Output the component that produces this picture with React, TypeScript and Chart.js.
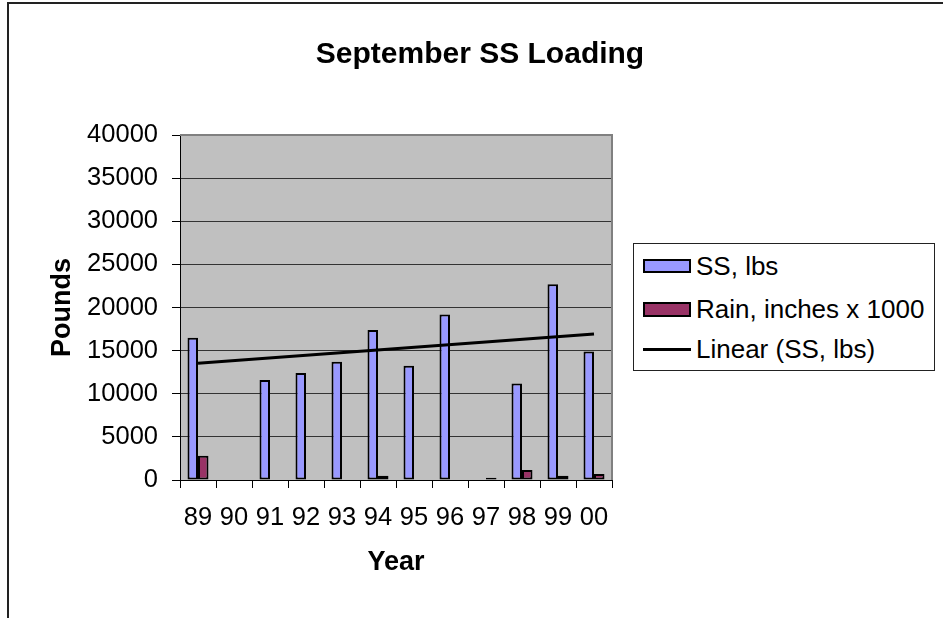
import React, { useEffect, useRef } from "react";
import { Chart, registerables } from "chart.js";

Chart.register(...registerables);

// ---- data ----
const years = ["89", "90", "91", "92", "93", "94", "95", "96", "97", "98", "99", "00"];
const ssLbs = [16500, null, 11600, 12400, 13700, 17400, 13250, 19200, null, 11200, 22700, 14900];
const rainX1000 = [2800, null, null, null, null, 500, null, null, 250, 1150, 500, 700];
const trendSS = [13530, null, null, null, null, null, null, null, null, null, null, 16930];
const yMin = 0;
const yMax = 40000;
const yStep = 5000;

const chartTitle = "September SS Loading";
const seriesNames = ["SS, lbs", "Rain, inches x 1000", "Linear (SS, lbs)"];

const FONT = "'Liberation Sans', Arial, Helvetica, sans-serif";

const plotBg = {
  id: "plotBg",
  beforeDraw(chart: any) {
    const { ctx, chartArea } = chart;
    if (!chartArea) return;
    ctx.save();
    ctx.fillStyle = "#C0C0C0";
    ctx.fillRect(chartArea.left, chartArea.top, chartArea.right - chartArea.left, chartArea.bottom - chartArea.top);
    ctx.restore();
  },
  beforeDatasetsDraw(chart: any) {
    const { ctx, chartArea } = chart;
    ctx.save();
    ctx.strokeStyle = "#808080";
    ctx.lineWidth = 2;
    ctx.beginPath();
    ctx.moveTo(chartArea.left, chartArea.top);
    ctx.lineTo(chartArea.right, chartArea.top);
    ctx.lineTo(chartArea.right, chartArea.bottom);
    ctx.stroke();
    ctx.restore();
  },
};

export default function App() {
  const ref = useRef<HTMLCanvasElement | null>(null);

  useEffect(() => {
    if (!ref.current) return;
    const chart = new Chart(ref.current, {
      data: {
        labels: years,
        datasets: [
          {
            type: "line",
            label: seriesNames[2],
            data: trendSS,
            borderColor: "#000",
            borderWidth: 3,
            pointRadius: 0,
            spanGaps: true,
            order: 0,
          } as any,
          {
            type: "bar",
            label: seriesNames[0],
            data: ssLbs,
            backgroundColor: "#9999FF",
            borderColor: "#000",
            borderWidth: 2,
            borderSkipped: false,
            categoryPercentage: 0.583,
            barPercentage: 1,
            order: 1,
          } as any,
          {
            type: "bar",
            label: seriesNames[1],
            data: rainX1000,
            backgroundColor: "#993366",
            borderColor: "#000",
            borderWidth: 2,
            borderSkipped: false,
            categoryPercentage: 0.583,
            barPercentage: 1,
            order: 1,
          } as any,
        ],
      },
      options: {
        responsive: false,
        animation: false,
        devicePixelRatio: 1,
        layout: { padding: { left: 0, right: 331, top: 135, bottom: 0 } },
        plugins: {
          legend: { display: false },
          tooltip: { enabled: false },
          title: { display: false },
        },
        scales: {
          x: {
            offset: true,
            grid: { offset: true, drawOnChartArea: false, drawTicks: true, tickLength: 8, color: "#000" },
            border: { color: "#000", width: 1 },
            ticks: { color: "#000", font: { family: FONT, size: 25.5 }, padding: 15, maxRotation: 0, autoSkip: false },
            title: {
              display: true,
              text: "Year",
              color: "#000",
              font: { family: FONT, size: 27, weight: "bold" },
              padding: { top: 0, bottom: 39 },
            },
            afterFit: (s: any) => {
              s.height = 138;
            },
          },
          y: {
            min: yMin,
            max: yMax,
            ticks: {
              stepSize: yStep,
              color: "#000",
              font: { family: FONT, size: 25.5 },
              padding: 14,
              callback: (v: any) => String(v),
            },
            grid: {
              color: (c: any) => (c.tick && c.tick.value === yMax ? "#808080" : "#333"),
              tickColor: "#000",
              tickLength: 8,
            },
            border: { color: "#000", width: 1 },
            title: {
              display: true,
              text: "Pounds",
              color: "#000",
              font: { family: FONT, size: 27, weight: "bold" },
              padding: { top: 46, bottom: 0 },
            },
            afterFit: (s: any) => {
              s.width = 180;
            },
          },
        },
      } as any,
      plugins: [plotBg],
    });
    return () => chart.destroy();
  }, []);

  const rowStyle = (top: number): React.CSSProperties => ({
    position: "absolute",
    left: 9,
    top,
    height: 30,
    display: "flex",
    alignItems: "center",
    whiteSpace: "nowrap",
  });

  return (
    <div style={{ position: "fixed", left: 0, top: 0, width: 943, height: 618, background: "#fff", overflow: "hidden" }}>
      <div
        style={{
          position: "absolute",
          left: 7,
          top: 2,
          width: 1000,
          height: 700,
          border: "2px solid #222",
          boxSizing: "border-box",
        }}
      />
      <canvas ref={ref} width={943} height={618} style={{ position: "absolute", left: 0, top: 0 }} />
      <div
        style={{
          position: "absolute",
          left: 280,
          width: 400,
          top: 35,
          height: 36,
          lineHeight: "36px",
          textAlign: "center",
          fontFamily: FONT,
          fontWeight: "bold",
          fontSize: 30,
          color: "#000",
          whiteSpace: "nowrap",
        }}
      >
        {chartTitle}
      </div>
      <div
        style={{
          position: "absolute",
          left: 633,
          top: 243,
          width: 302,
          height: 128,
          border: "1px solid #222",
          boxSizing: "border-box",
          background: "#fff",
          fontFamily: FONT,
          fontSize: 26,
          color: "#000",
        }}
      >
        <div style={rowStyle(7)}>
          <span style={{ display: "inline-block", width: 48, height: 14, background: "#9999FF", border: "2px solid #000", boxSizing: "border-box", marginRight: 5 }} />
          <span style={{ lineHeight: "30px" }}>{seriesNames[0]}</span>
        </div>
        <div style={rowStyle(50)}>
          <span style={{ display: "inline-block", width: 48, height: 15, background: "#993366", border: "2px solid #000", boxSizing: "border-box", marginRight: 5 }} />
          <span style={{ lineHeight: "30px" }}>{seriesNames[1]}</span>
        </div>
        <div style={rowStyle(90)}>
          <span style={{ display: "inline-block", width: 48, height: 3, background: "#000", marginRight: 5 }} />
          <span style={{ lineHeight: "30px" }}>{seriesNames[2]}</span>
        </div>
      </div>
    </div>
  );
}
